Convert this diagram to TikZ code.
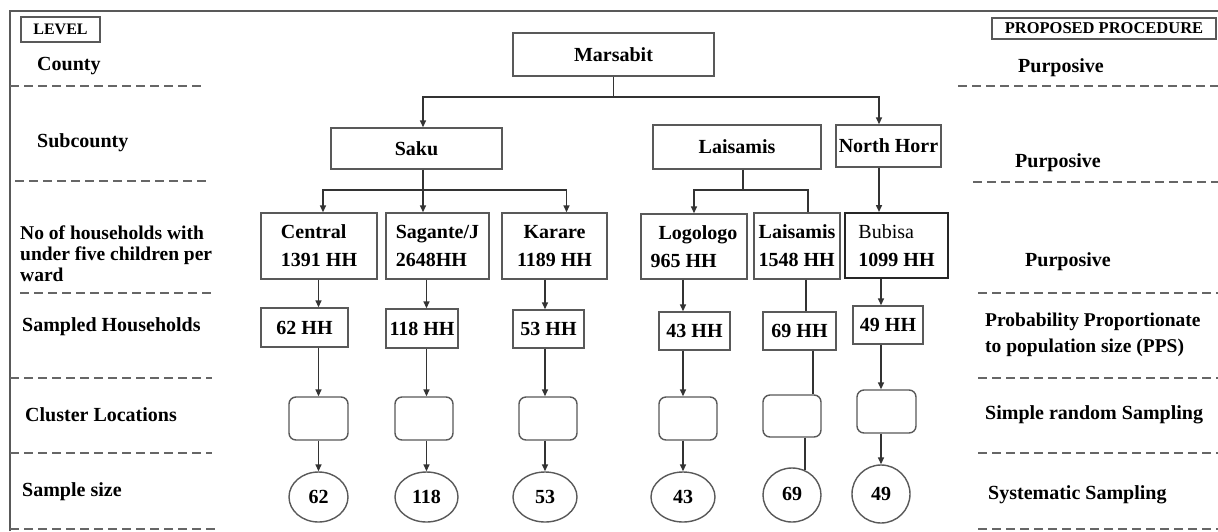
\documentclass[tikz,border=0pt]{standalone}
\usepackage{fontspec}
\setmainfont{Liberation Serif}
\usetikzlibrary{arrows.meta,shapes.geometric}
\begin{document}
\begin{tikzpicture}[x=1pt,y=-1pt,
  every node/.style={font=\fontsize{20}{28}\selectfont\bfseries},
  lbl/.style={anchor=west,inner sep=0pt,align=left},
  box/.style={draw=black!65,line width=1.4pt,rectangle,inner sep=2pt},
  rbox/.style={box,rounded corners=7pt},
  ell/.style={draw=black!65,line width=1.4pt,ellipse,inner sep=0pt},
  conn/.style={draw=black!80,line width=1.5pt},
  arr/.style={conn,-{Triangle[length=7pt,width=6pt]}},
  dashln/.style={draw=black!60,line width=1.3pt,dash pattern=on 9pt off 5pt}]
\useasboundingbox (0,0) rectangle (1218,531);
\fill[white] (0,0) rectangle (1218,531);
% frame
\draw[black!65,line width=1.6pt] (10,531) -- (10,11) -- (1218,11);
% headers
\node[box,minimum width=79pt,minimum height=25pt,font=\fontsize{16}{18}\selectfont\bfseries] (lev) at (60.5,29.5) {LEVEL};
\node[box,minimum width=224pt,minimum height=21pt,inner sep=1pt,font=\fontsize{16.5}{18}\selectfont\bfseries] (prop) at (1104,28.5) {PROPOSED PROCEDURE};
% left labels
\node[lbl] (lCounty) at (37,66) {County};
\node[lbl] (lSub) at (37,143) {Subcounty};
\node[lbl,font=\fontsize{19.5}{21}\selectfont\bfseries] (lNo) at (20,254) {No of households with\\under five children per\\ward};
\node[lbl] (lSam) at (22,327) {Sampled Households};
\node[lbl] (lClu) at (25,415) {Cluster Locations};
\node[lbl] (lSize) at (22,492) {Sample size};
% right labels
\node[lbl] (rP1) at (1018,68) {Purposive};
\node[lbl] (rP2) at (1015,163) {Purposive};
\node[lbl] (rP3) at (1025,262) {Purposive};
\node[lbl,font=\fontsize{19.5}{26}\selectfont\bfseries] (rPPS) at (985,335) {Probability Proportionate\\to population size (PPS)};
\node[lbl] (rSRS) at (985,415) {Simple random Sampling};
\node[lbl] (rSys) at (988,495) {Systematic Sampling};
% dashed separators
\draw[dashln] (10,86) -- (205,86);
\draw[dashln] (15,181) -- (210,181);
\draw[dashln] (20,293) -- (212,293);
\draw[dashln] (10,378) -- (212,378);
\draw[dashln] (10,453) -- (212,453);
\draw[dashln] (10,529) -- (215,529);
\draw[dashln] (958,86) -- (1218,86);
\draw[dashln] (973,182) -- (1218,182);
\draw[dashln] (978,293) -- (1218,293);
\draw[dashln] (978,378) -- (1218,378);
\draw[dashln] (978,453) -- (1218,453);
\draw[dashln] (978,529) -- (1218,529);
% tree nodes
\node[box,minimum width=201pt,minimum height=43pt] (mars) at (613.5,54.5) {Marsabit};
\node[box,minimum width=171pt,minimum height=41pt] (saku) at (416.5,148.5) {Saku};
\node[box,minimum width=168pt,minimum height=44pt] (lais) at (737,147) {Laisamis};
\node[box,minimum width=105pt,minimum height=42pt,inner sep=1pt] (north) at (888.5,146) {North Horr};
% wards
\node[box,minimum width=116pt,minimum height=66pt,align=left] (wc) at (319,246) {Central\\1391 HH};
\node[box,minimum width=103pt,minimum height=66pt,align=left] (ws) at (437.5,246) {Sagante/J\\2648HH};
\node[box,minimum width=105pt,minimum height=66pt,align=center] (wk) at (554.5,246) {Karare\\1189 HH};
\node[box,minimum width=106pt,minimum height=65pt,align=left] (wl) at (694,246.5) {\hspace{8pt}Logologo\\965 HH};
\node[box,minimum width=86pt,minimum height=66pt,inner sep=0pt,align=left] (wla) at (797,246) {Laisamis\\1548 HH};
\node[box,draw=black!85,line width=2pt,minimum width=103pt,minimum height=65pt,align=left] (wb) at (896.5,245.5) {{\mdseries Bubisa}\\1099 HH};
% sampled households
\node[box,minimum width=87pt,minimum height=39pt] (h1) at (304.5,327.5) {62 HH};
\node[box,minimum width=72pt,minimum height=39pt,inner sep=0pt] (h2) at (422,328.5) {118 HH};
\node[box,minimum width=71pt,minimum height=38pt] (h3) at (548.5,329) {53 HH};
\node[box,minimum width=71pt,minimum height=38pt] (h4) at (694.5,331) {43 HH};
\node[box,minimum width=73pt,minimum height=38pt] (h5) at (799.5,331) {69 HH};
\node[box,minimum width=70pt,minimum height=38pt] (h6) at (888,325) {49 HH};
% cluster boxes
\node[rbox,minimum width=59pt,minimum height=43pt] (c1) at (318.5,418.5) {};
\node[rbox,minimum width=58pt,minimum height=43pt] (c2) at (424,418.5) {};
\node[rbox,minimum width=58pt,minimum height=43pt] (c3) at (548,418.5) {};
\node[rbox,minimum width=58pt,minimum height=43pt] (c4) at (688,418.5) {};
\node[rbox,minimum width=58pt,minimum height=42pt] (c5) at (792,416) {};
\node[rbox,minimum width=59pt,minimum height=43pt] (c6) at (886.5,411.5) {};
% sample sizes
\node[ell,minimum width=59pt,minimum height=50pt] (e1) at (318.5,497) {62};
\node[ell,minimum width=63pt,minimum height=50pt] (e2) at (426.5,497) {118};
\node[ell,minimum width=64pt,minimum height=50pt] (e3) at (545,497) {53};
\node[ell,minimum width=64pt,minimum height=50pt] (e4) at (683,497) {43};
\node[ell,minimum width=58pt,minimum height=54pt] (e5) at (792,495) {\raisebox{3pt}{69}};
\node[ell,minimum width=58pt,minimum height=58pt] (e6) at (881,494) {49};
% junction coordinates
\coordinate (hL) at (423,97);
\coordinate (hR) at (879,97);
\coordinate (sJ) at (423,190);
\coordinate (lJ) at (743,190);
\coordinate (x5) at (806,0);
\coordinate (x5b) at (813,0);
% county -> subcounty
\draw[arr] (mars.south) |- (hL) -- (hL |- saku.north);
\draw[arr] (mars.south |- hL) -- (hR) -- (hR |- north.north);
% subcounty -> wards
\draw[conn] (saku.south -| sJ) -- (sJ);
\draw[arr] (sJ) -| ([xshift=4pt]wc.north);
\draw[arr] (sJ) -- (sJ |- ws.north);
\draw[arr] (sJ) -| ([xshift=12pt]wk.north);
\draw[conn] (lais.south -| lJ) -- (lJ);
\draw[arr] (lJ) -| (wl.north);
\draw[conn] (lJ) -| ([xshift=11pt]wla.north);
\draw[arr] (north.south -| hR) -- (wb.north -| hR);
% wards -> sampled households -> clusters -> sizes
\foreach \w/\h/\c/\e in {wc/h1/c1/e1, ws/h2/c2/e2, wk/h3/c3/e3, wl/h4/c4/e4, wb/h6/c6/e6}{
  \draw[arr] (\w.south -| \e) -- (\h.north -| \e);
  \draw[arr] (\h.south -| \e) -- (\c.north -| \e);
  \draw[arr] (\c.south -| \e) -- (\e.north);
}
\draw[conn] (wla.south -| x5) -- (h5.north -| x5);
\draw[conn] (h5.south -| x5b) -- (c5.north -| x5b);
\draw[conn] (c5.south -| e5.62) -- (e5.62);
\end{tikzpicture}
\end{document}
